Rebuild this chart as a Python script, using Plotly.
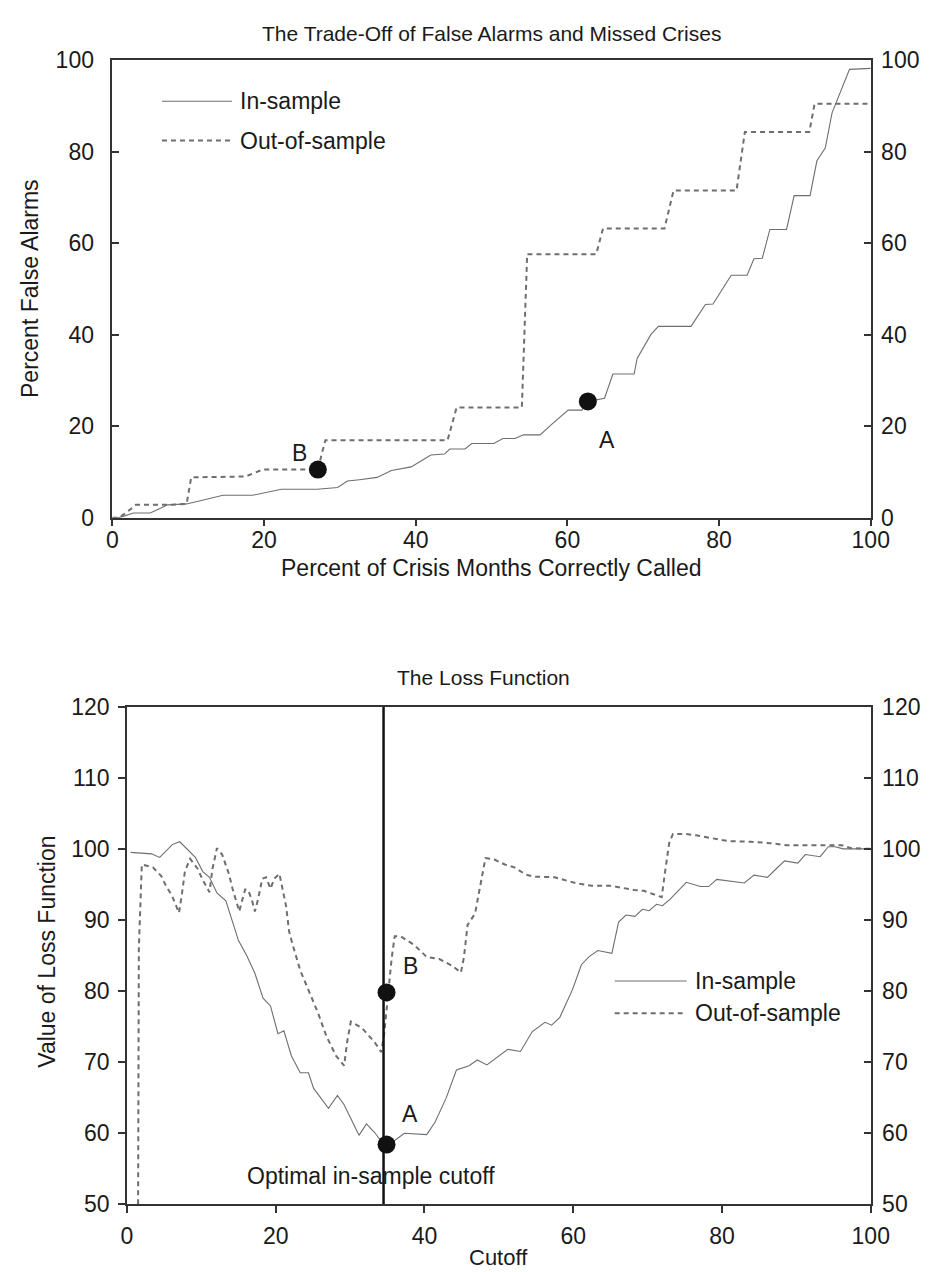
import plotly.graph_objects as go

W, H = 946, 1272

# ---------------- data: top chart (trade-off) ----------------
top_in_x = [0, 0.9, 2.8, 5.0, 7.3, 9.8, 14.6, 18.5, 22.3, 27.0, 29.7, 31.0, 32.6, 34.9, 36.8,
            39.4, 42.0, 43.8, 44.5, 46.5, 47.4, 50.3, 51.5, 53.1, 54.2, 56.4, 58.0, 60.1, 61.9,
            62.7, 64.9, 66.0, 68.8, 69.2, 71.0, 72.0, 76.3, 78.2, 79.2, 81.6, 83.7, 84.6, 85.7,
            86.7, 88.9, 89.9, 92.0, 92.9, 94.0, 94.9, 97.2, 100]
top_in_y = [0, 0, 1.0, 1.0, 2.8, 3.0, 4.9, 4.9, 6.2, 6.2, 6.6, 8.0, 8.3, 8.8, 10.3,
            11.1, 13.7, 13.9, 15.0, 15.0, 16.2, 16.2, 17.3, 17.3, 18.1, 18.1, 20.5, 23.5, 23.5,
            25.4, 26.1, 31.4, 31.4, 34.8, 40.0, 41.8, 41.8, 46.6, 46.7, 53.0, 53.0, 56.6, 56.7,
            63.0, 63.0, 70.4, 70.4, 78.0, 80.8, 88.5, 98.0, 98.2]

top_out_x = [0, 0.9, 2.0, 3.1, 7.3, 9.8, 10.4, 17.6, 19.8, 25.8, 27.1, 27.7, 28.1, 44.2, 45.4,
             54.0, 54.7, 63.8, 64.7, 72.8, 74.0, 82.3, 83.4, 91.9, 92.6, 100]
top_out_y = [0, 0, 1.3, 2.8, 2.8, 3.0, 8.8, 9.0, 10.5, 10.5, 10.5, 14.5, 16.9, 16.9, 24.1,
             24.1, 57.6, 57.6, 63.2, 63.2, 71.5, 71.5, 84.3, 84.3, 90.5, 90.5]

top_pt_labels = ["A", "B"]
top_pt_x = [62.7, 27.1]
top_pt_y = [25.4, 10.5]
top_lbl_x = [65.2, 24.7]
top_lbl_y = [17.0, 14.2]
top_ticks = [0, 20, 40, 60, 80, 100]

# ---------------- data: bottom chart (loss function) ----------------
bot_in_x = [0.5, 3.3, 4.4, 6.1, 7.1, 9.2, 10.2, 11.1, 12.1, 13.3, 15.0, 16.1, 17.2, 18.3, 19.3,
            20.3, 21.1, 22.1, 23.3, 24.4, 25.1, 27.1, 28.3, 29.2, 31.2, 32.2, 33.3, 34.6, 35.1,
            35.9, 37.3, 38.8, 40.3, 41.4, 42.9, 44.3, 46.0, 47.1, 48.4, 51.2, 52.9, 54.5, 56.2,
            57.1, 58.2, 59.9, 61.1, 62.1, 63.3, 65.2, 66.1, 67.1, 68.3, 69.3, 70.2, 71.2, 72.0,
            73.0, 75.2, 77.1, 78.2, 79.3, 81.3, 83.0, 84.3, 86.1, 87.3, 88.4, 90.2, 91.2, 93.2,
            94.3, 95.2, 96.3, 100]
bot_in_y = [99.5, 99.3, 98.8, 100.6, 101.0, 98.8, 96.8, 96.0, 93.8, 92.7, 87.1, 85.0, 82.5, 79.0, 77.9,
            74.0, 74.4, 70.9, 68.5, 68.5, 66.3, 63.5, 65.3, 64.0, 59.7, 61.3, 60.1, 58.3, 58.5,
            58.9, 60.0, 59.9, 59.8, 61.5, 64.9, 68.9, 69.5, 70.3, 69.6, 71.8, 71.5, 74.3, 75.6,
            75.2, 76.3, 80.2, 83.7, 84.8, 85.7, 85.3, 89.7, 90.7, 90.5, 91.5, 91.3, 92.2, 92.0,
            92.9, 95.3, 94.7, 94.7, 95.7, 95.4, 95.2, 96.3, 96.0, 97.2, 98.3, 98.0, 99.2, 98.9,
            100.3, 100.3, 100.0, 100.0]

bot_out_x = [1.5, 1.6, 2.0, 3.5, 4.6, 5.2, 6.1, 7.0, 7.4, 7.8, 8.5, 9.5, 10.2, 11.1, 11.5, 12.1,
             12.8, 13.7, 14.2, 14.6, 15.1, 15.5, 15.9, 16.3, 16.8, 17.2, 17.6, 18.2, 18.7, 19.3,
             19.8, 20.5, 20.9, 21.4, 21.8, 22.2, 23.3, 24.6, 25.7, 26.8, 28.1, 29.2, 29.6, 30.1,
             31.6, 33.3, 34.2, 34.6, 35.1, 35.6, 36.0, 36.8, 38.6, 40.3, 42.0, 43.8, 44.9, 45.3,
             45.8, 46.8, 48.2, 49.4, 50.8, 52.1, 53.6, 54.7, 57.5, 59.0, 60.3, 62.5, 65.1, 66.7,
             68.2, 69.5, 70.8, 71.9, 72.3, 72.9, 73.4, 75.2, 76.5, 78.2, 80.8, 83.9, 86.5, 88.7,
             93.9, 96.1, 97.4, 100]
bot_out_y = [50.0, 86.0, 97.8, 97.4, 96.2, 94.9, 93.3, 91.0, 93.7, 96.9, 98.6, 97.2, 95.6, 93.9, 97.2, 100.1,
             99.2, 96.5, 94.4, 92.8, 91.2, 92.8, 94.3, 94.2, 92.8, 91.2, 92.8, 95.8, 96.0, 94.4,
             95.8, 96.5, 94.6, 91.9, 88.4, 86.8, 82.9, 79.6, 76.9, 73.7, 70.9, 69.5, 72.8, 75.7,
             74.8, 72.8, 71.4, 74.1, 79.7, 84.7, 87.7, 87.7, 86.5, 84.8, 84.5, 83.5, 82.6, 84.7,
             89.3, 90.9, 98.7, 98.5, 97.8, 97.4, 96.4, 96.1, 96.0, 95.6, 95.2, 94.8, 94.8, 94.5,
             94.2, 94.1, 93.6, 93.2, 96.4, 100.8, 102.1, 102.1, 101.9, 101.6, 101.1, 101.0, 100.8, 100.5,
             100.5, 100.5, 100.1, 100.0]

optimal_cutoff = 34.5
bot_pt_labels = ["A", "B"]
bot_pt_x = [34.9, 34.9]
bot_pt_y = [58.4, 79.8]
bot_lbl_x = [38.1, 38.1]
bot_lbl_y = [62.7, 83.5]
bot_x_ticks = [0, 20, 40, 60, 80, 100]
bot_y_ticks = [50, 60, 70, 80, 90, 100, 110, 120]

# ---------------- styling ----------------
FONT = "Liberation Sans, Arial, Helvetica, sans-serif"
TXT = "#1a1a1a"
AX = "#333333"
LINE_C = "#6e6e6e"
DASH = "5px,4px"
TICKF = dict(family=FONT, size=23, color=TXT)

def px(x):
    return x / W

def py(y):
    return 1 - y / H

top_dom_x = [px(101), px(880)]
top_dom_y = [py(507), py(40)]
bot_dom_x = [px(116), px(880)]
bot_dom_y = [py(1208), py(700)]

fig = go.Figure()

# top chart traces
fig.add_trace(go.Scatter(x=top_in_x, y=top_in_y, mode="lines", line=dict(color=LINE_C, width=1.1),
                         xaxis="x", yaxis="y", showlegend=False, hoverinfo="skip"))
fig.add_trace(go.Scatter(x=top_out_x, y=top_out_y, mode="lines",
                         line=dict(color=LINE_C, width=2, dash=DASH),
                         xaxis="x", yaxis="y", showlegend=False, hoverinfo="skip"))
fig.add_trace(go.Scatter(x=top_pt_x, y=top_pt_y, mode="markers", text=top_pt_labels,
                         marker=dict(color="#111111", size=18),
                         xaxis="x", yaxis="y", showlegend=False, cliponaxis=False))
fig.add_trace(go.Scatter(x=[top_ticks[0]], y=[top_ticks[0]], mode="markers", marker=dict(opacity=0),
                         xaxis="x", yaxis="y3", showlegend=False, hoverinfo="skip"))

# bottom chart traces
fig.add_trace(go.Scatter(x=bot_in_x, y=bot_in_y, mode="lines", line=dict(color=LINE_C, width=1.1),
                         xaxis="x2", yaxis="y2", showlegend=False, hoverinfo="skip"))
fig.add_trace(go.Scatter(x=bot_out_x, y=bot_out_y, mode="lines",
                         line=dict(color=LINE_C, width=2, dash=DASH),
                         xaxis="x2", yaxis="y2", showlegend=False, hoverinfo="skip"))
fig.add_trace(go.Scatter(x=[optimal_cutoff, optimal_cutoff], y=[bot_y_ticks[0], bot_y_ticks[-1]],
                         mode="lines", line=dict(color="#111111", width=2.5),
                         xaxis="x2", yaxis="y2", showlegend=False, hoverinfo="skip"))
fig.add_trace(go.Scatter(x=bot_pt_x, y=bot_pt_y, mode="markers", text=bot_pt_labels,
                         marker=dict(color="#111111", size=18),
                         xaxis="x2", yaxis="y2", showlegend=False, cliponaxis=False))
fig.add_trace(go.Scatter(x=[bot_x_ticks[0]], y=[bot_y_ticks[0]], mode="markers", marker=dict(opacity=0),
                         xaxis="x2", yaxis="y4", showlegend=False, hoverinfo="skip"))

common_ax = dict(showline=True, linecolor=AX, linewidth=1.5, showgrid=False, zeroline=False,
                 tickfont=TICKF, tickcolor=AX, tickwidth=1.5, ticklen=7)

annotations = []
shapes = []

for lbl, xx, yy in zip(top_pt_labels, top_lbl_x, top_lbl_y):
    annotations.append(dict(x=xx, y=yy, xref="x", yref="y", text=lbl, showarrow=False,
                            font=dict(family=FONT, size=23, color=TXT)))
for lbl, xx, yy in zip(bot_pt_labels, bot_lbl_x, bot_lbl_y):
    annotations.append(dict(x=xx, y=yy, xref="x2", yref="y2", text=lbl, showarrow=False,
                            font=dict(family=FONT, size=23, color=TXT)))

annotations.append(dict(x=32.8, y=54.0, xref="x2", yref="y2", text="Optimal in-sample cutoff",
                        showarrow=False, font=dict(family=FONT, size=23, color=TXT)))

def ptext(text, x, y, size=23, angle=0):
    annotations.append(dict(x=px(x), y=py(y), xref="paper", yref="paper", text=text,
                            showarrow=False, textangle=angle, xanchor="center", yanchor="middle",
                            font=dict(family=FONT, size=size, color=TXT)))

ptext("The Trade-Off of False Alarms and Missed Crises", 490, 13, 21)
ptext("Percent False Alarms", 17, 273, 23, -90)
ptext("Percent of Crisis Months Correctly Called", 490, 558, 23)
ptext("The Loss Function", 482, 670, 21)
ptext("Value of Loss Function", 33, 950, 23, -90)
ptext("Cutoff", 498, 1262, 22)

def legend_row(x0, x1, y, text, dash):
    shapes.append(dict(type="line", xref="paper", yref="paper", x0=px(x0), x1=px(x1), y0=py(y), y1=py(y),
                       line=dict(color=LINE_C, width=1.1 if dash is None else 2, dash=dash)))
    annotations.append(dict(x=px(x1 + 6), y=py(y), xref="paper", yref="paper", text=text, showarrow=False,
                            xanchor="left", yanchor="middle", font=dict(family=FONT, size=23, color=TXT)))

legend_row(152, 224, 82, "In-sample", None)
legend_row(152, 224, 122, "Out-of-sample", DASH)
legend_row(617, 691, 980, "In-sample", None)
legend_row(617, 691, 1013, "Out-of-sample", DASH)

fig.update_layout(
    width=W, height=H, margin=dict(l=0, r=0, t=0, b=0),
    paper_bgcolor="white", plot_bgcolor="white", showlegend=False,
    font=dict(family=FONT, color=TXT),
    xaxis=dict(domain=top_dom_x, anchor="y", range=[0, 100], tickvals=top_ticks, ticks="outside",
               mirror=True, ticklabelstandoff=-6, **common_ax),
    yaxis=dict(domain=top_dom_y, anchor="x", range=[0, 100], tickvals=top_ticks, ticks="inside",
               mirror=True, ticklabelstandoff=12, **common_ax),
    yaxis3=dict(overlaying="y", side="right", anchor="x", range=[0, 100], tickvals=top_ticks,
                ticks="inside", ticklabelstandoff=4, **common_ax),
    xaxis2=dict(domain=bot_dom_x, anchor="y2", range=[0, 100], tickvals=bot_x_ticks, ticks="outside",
                mirror=True, ticklabelstandoff=3, **common_ax),
    yaxis2=dict(domain=bot_dom_y, anchor="x2", range=[50, 120], tickvals=bot_y_ticks, ticks="outside",
                mirror=True, ticklabelstandoff=4, **common_ax),
    yaxis4=dict(overlaying="y2", side="right", anchor="x2", range=[50, 120], tickvals=bot_y_ticks,
                ticks="inside", ticklabelstandoff=5, **common_ax),
    annotations=annotations, shapes=shapes,
)

fig.write_html("out.html")
